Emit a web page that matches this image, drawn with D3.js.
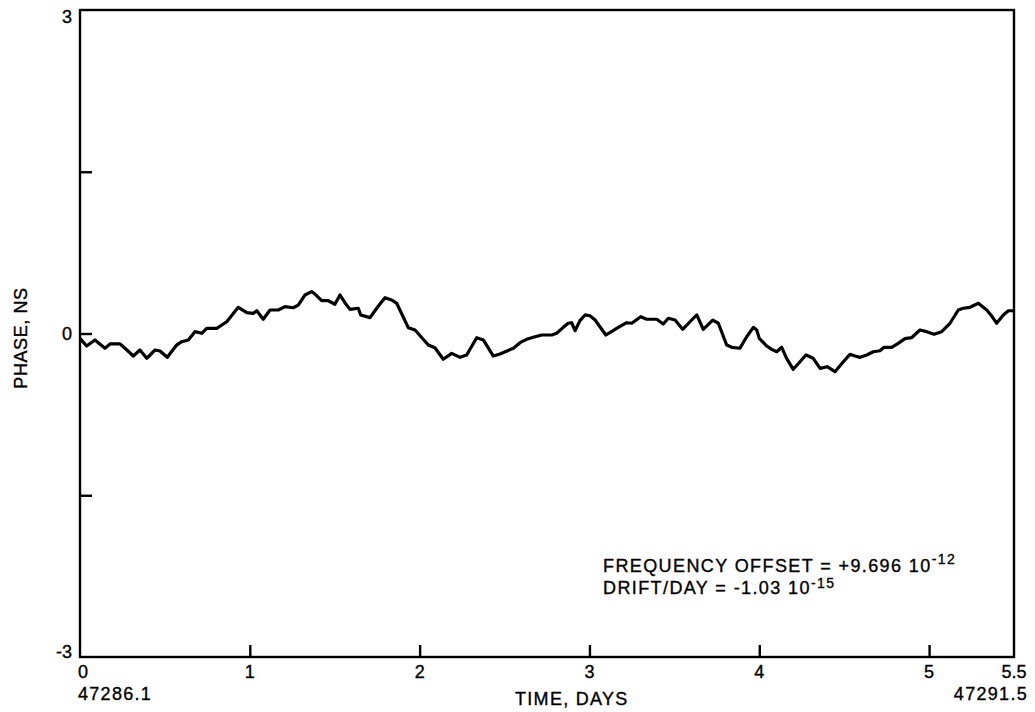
<!DOCTYPE html>
<html>
<head>
<meta charset="utf-8">
<script src="https://cdn.jsdelivr.net/npm/d3@7"></script>
<style>
  html, body { margin: 0; padding: 0; background: #fff; }
  svg { display: block; }
  text { font-family: "Liberation Sans", Arial, Helvetica, sans-serif; fill: #000; stroke: #000; stroke-width: 0.35px; }
</style>
</head>
<body>
<svg id="chart" width="1035" height="712"></svg>
<script>
// Elapsed time since MJD 47286.1, in days
const days = [
  0.000, 0.039, 0.088, 0.147, 0.177, 0.236, 0.265, 0.314, 0.353, 0.393,
  0.442, 0.471, 0.514, 0.569, 0.599, 0.638, 0.677, 0.717, 0.746, 0.805,
  0.864, 0.932, 0.982, 1.020, 1.041, 1.079, 1.119, 1.168, 1.207, 1.256,
  1.285, 1.325, 1.364, 1.384, 1.423, 1.462, 1.501, 1.531, 1.560, 1.590,
  1.639, 1.653, 1.708, 1.757, 1.796, 1.835, 1.865, 1.933, 1.973, 2.051,
  2.090, 2.139, 2.189, 2.238, 2.277, 2.336, 2.375, 2.434, 2.473, 2.552,
  2.591, 2.630, 2.669, 2.719, 2.778, 2.807, 2.846, 2.875, 2.895, 2.915,
  2.944, 2.974, 3.003, 3.033, 3.097, 3.160, 3.219, 3.249, 3.302, 3.337,
  3.396, 3.435, 3.464, 3.504, 3.549, 3.592, 3.632, 3.670, 3.726, 3.759,
  3.808, 3.838, 3.886, 3.926, 3.965, 3.985, 4.000, 4.044, 4.073, 4.103,
  4.132, 4.161, 4.200, 4.240, 4.275, 4.318, 4.358, 4.400, 4.446, 4.495,
  4.534, 4.564, 4.593, 4.633, 4.671, 4.711, 4.734, 4.780, 4.818, 4.858,
  4.897, 4.946, 4.986, 5.029, 5.074, 5.123, 5.172, 5.201, 5.241, 5.290,
  5.339, 5.369, 5.398, 5.437, 5.467, 5.496
];

// Residual phase, in nanoseconds
const phase = [
  -0.045, -0.116, -0.060, -0.137, -0.097, -0.097, -0.137, -0.209, -0.153, -0.230,
  -0.153, -0.162, -0.221, -0.107, -0.076, -0.060,  0.017,  0.002,  0.048,  0.048,
   0.109,  0.243,  0.193,  0.187,  0.211,  0.132,  0.218,  0.218,  0.249,  0.239,
   0.264,  0.357,  0.388,  0.366,  0.304,  0.304,  0.271,  0.357,  0.286,  0.224,
   0.234,  0.172,  0.147,  0.255,  0.332,  0.311,  0.280,  0.054,  0.032, -0.107,
  -0.132, -0.239, -0.184, -0.221, -0.199, -0.039, -0.060, -0.209, -0.190, -0.137,
  -0.085, -0.054, -0.035, -0.014, -0.014,  0.002,  0.057,  0.095,  0.100,  0.026,
   0.119,  0.172,  0.165,  0.125, -0.014,  0.048,  0.100,  0.095,  0.156,  0.132,
   0.132,  0.088,  0.141,  0.125,  0.039,  0.109,  0.172,  0.039,  0.125,  0.095,
  -0.107, -0.128, -0.137, -0.030,  0.057,  0.032, -0.045, -0.116, -0.147, -0.169,
  -0.128, -0.230, -0.332, -0.262, -0.199, -0.230, -0.323, -0.308, -0.354, -0.262,
  -0.193, -0.209, -0.221, -0.199, -0.169, -0.160, -0.128, -0.128, -0.091, -0.048,
  -0.039,  0.032,  0.017, -0.007,  0.017,  0.095,  0.218,  0.234,  0.243,  0.280,
   0.218,  0.162,  0.095,  0.172,  0.211,  0.211
];

// Axis ticks and their labels
const xTicks = [0, 1, 2, 3, 4, 5, 5.5];
const xTickLabels = ["0", "1", "2", "3", "4", "5", "5.5"];
const yTicks = [-3, -1.5, 0, 1.5, 3];
const yTickLabels = ["-3", "", "0", "", "3"];
const mjdStart = "47286.1";
const mjdEnd = "47291.5";

const svg = d3.select("#chart");
const margin = { left: 80, right: 21, top: 10, bottom: 55 };
const W = 1035, H = 712;
const x0 = margin.left, x1 = W - margin.right;
const y0 = H - margin.bottom, y1 = margin.top;
const FS = 18, LS = 1.3;

const x = d3.scaleLinear().domain([0, 5.5]).range([x0, x1]);
const y = d3.scaleLinear().domain([-3, 3]).range([y0, y1]);

// Plot frame
svg.append("rect")
  .attr("x", x0).attr("y", y1)
  .attr("width", x1 - x0).attr("height", y0 - y1)
  .attr("fill", "none").attr("stroke", "#000").attr("stroke-width", 2.4);

// Bottom axis: inward ticks, labels below
const xAxis = d3.axisBottom(x)
  .tickValues(xTicks.slice(1, -1))
  .tickSize(-12)
  .tickFormat("");
const gx = svg.append("g").attr("transform", `translate(0,${y0})`).call(xAxis);
gx.select(".domain").remove();
gx.selectAll(".tick line").attr("stroke", "#000").attr("stroke-width", 2.4);
gx.selectAll(".tick text").remove();

svg.selectAll(".xlab").data(xTicks).join("text")
  .attr("class", "xlab")
  .attr("x", (d) => d === 0 ? x(d) + 3 : x(d))
  .attr("y", y0 + 21)
  .attr("text-anchor", "middle")
  .attr("font-size", FS)
  .text((d, i) => xTickLabels[i]);

svg.append("text")
  .attr("x", x0 - 2).attr("y", y0 + 43)
  .attr("font-size", FS).attr("letter-spacing", LS)
  .text(mjdStart);
svg.append("text")
  .attr("x", x1 + 14).attr("y", y0 + 43)
  .attr("text-anchor", "end")
  .attr("font-size", FS).attr("letter-spacing", LS)
  .text(mjdEnd);

// Left axis: inward ticks, labels at left
const yAxis = d3.axisLeft(y)
  .tickValues(yTicks.slice(1, -1))
  .tickSize(-12)
  .tickFormat("");
const gy = svg.append("g").attr("transform", `translate(${x0},0)`).call(yAxis);
gy.select(".domain").remove();
gy.selectAll(".tick line").attr("stroke", "#000").attr("stroke-width", 2.4);

// Label baselines sit below the top value, centred on zero, and level with the bottom
const yLabelShift = { "3": 13, "0": 6.5, "-3": 1 };
svg.selectAll(".ylab").data(yTicks.filter((d, i) => yTickLabels[i] !== "")).join("text")
  .attr("class", "ylab")
  .attr("x", x0 - 8)
  .attr("y", (d) => y(d) + yLabelShift[String(d)])
  .attr("text-anchor", "end")
  .attr("font-size", FS)
  .text((d) => yTickLabels[yTicks.indexOf(d)]);

// Axis titles
svg.append("text")
  .attr("x", 515).attr("y", y0 + 48)
  .attr("font-size", FS).attr("letter-spacing", LS)
  .text("TIME, DAYS");
svg.append("text")
  .attr("transform", `translate(27,338) rotate(-90)`)
  .attr("text-anchor", "middle")
  .attr("font-size", FS).attr("letter-spacing", 0.6)
  .text("PHASE, NS");

// Phase residual trace
const line = d3.line().x((d) => x(d[0])).y((d) => y(d[1]));
svg.append("path")
  .datum(days.map((d, i) => [d, phase[i]]))
  .attr("d", line)
  .attr("fill", "none")
  .attr("stroke", "#000")
  .attr("stroke-width", 3.2)
  .attr("stroke-linejoin", "round");

// Fit parameters
const ann = svg.append("g").attr("font-size", FS).attr("letter-spacing", 1.4);
const t1 = ann.append("text").attr("x", 603).attr("y", 572);
t1.append("tspan").text("FREQUENCY OFFSET = +9.696 10");
t1.append("tspan").attr("dy", -8).attr("font-size", 14).text("-12");
const t2 = ann.append("text").attr("x", 603).attr("y", 594);
t2.append("tspan").text("DRIFT/DAY = -1.03 10");
t2.append("tspan").attr("dy", -6).attr("font-size", 14).text("-15");
</script>
</body>
</html>
